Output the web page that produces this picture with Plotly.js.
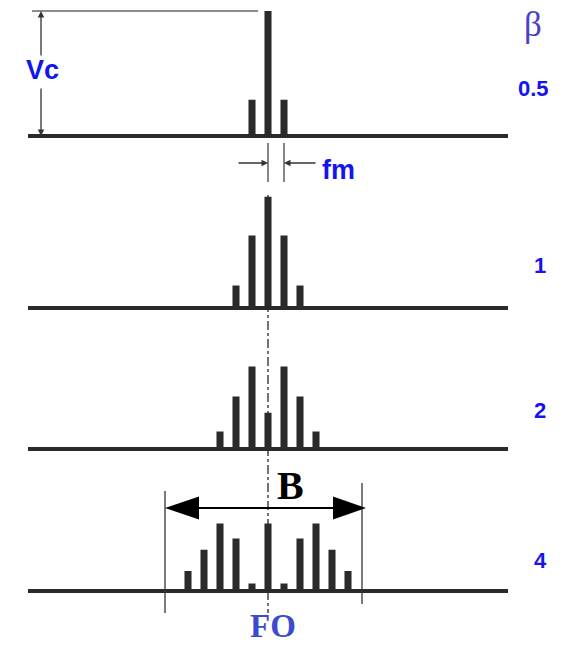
<!DOCTYPE html>
<html><head><meta charset="utf-8">
<script src="https://cdn.plot.ly/plotly-3.0.1.min.js"></script>
<style>html,body{margin:0;padding:0;background:#fff}#chart{width:567px;height:645px}</style>
</head><body><div id="chart"></div>
<script>
// ---- data (frequency offset in units of fm, relative amplitude vs Vc) ----
const betaLabels = ['0.5', '1', '2', '4'];
const offsets05 = [-1, 0, 1];
const amps05 = [0.29, 1.0, 0.29];
const offsets1 = [-2, -1, 0, 1, 2];
const amps1 = [0.18, 0.58, 0.89, 0.58, 0.18];
const offsets2 = [-3, -2, -1, 0, 1, 2, 3];
const amps2 = [0.14, 0.42, 0.66, 0.29, 0.66, 0.42, 0.14];
const offsets4 = [-5, -4, -3, -2, -1, 0, 1, 2, 3, 4, 5];
const amps4 = [0.16, 0.33, 0.54, 0.42, 0.06, 0.54, 0.06, 0.42, 0.54, 0.33, 0.16];
const freqSpan = [-15, 15];

// ---- layout helpers ----
const W = 567, H = 645;
const X = p => p / W, Y = p => 1 - p / H;
const baselinesPx = [136, 308, 449, 591];
const unitPx = 125, yr = [-0.1, 1.02];
function dom(b) { return [Y(b - yr[0] * unitPx), Y(b - yr[1] * unitPx)]; }

const blue = '#1414ee';
const sans = 'Liberation Sans, Arial, sans-serif';
const serif = 'Liberation Serif, Times New Roman, serif';

const series = [[offsets05, amps05], [offsets1, amps1], [offsets2, amps2], [offsets4, amps4]];
const traces = series.map((s, i) => ({
  type: 'bar', x: s[0], y: s[1], xaxis: 'x', yaxis: i === 0 ? 'y' : 'y' + (i + 1),
  width: 0.44, marker: { color: '#2a2a2a', line: { width: 0 } },
  hoverinfo: 'skip', showlegend: false
}));

const layout = {
  width: W, height: H, margin: { l: 0, r: 0, t: 0, b: 0 },
  paper_bgcolor: '#fff', plot_bgcolor: 'rgba(0,0,0,0)', barmode: 'overlay', showlegend: false,
  xaxis: { domain: [X(28), X(508)], range: freqSpan, visible: false, fixedrange: true },
  shapes: [], annotations: []
};
baselinesPx.forEach((b, i) => {
  const key = i === 0 ? 'yaxis' : 'yaxis' + (i + 1);
  layout[key] = {
    domain: dom(b), range: yr, anchor: 'x', showgrid: false, showticklabels: false, ticks: '',
    showline: false, zeroline: true, zerolinewidth: 4, zerolinecolor: '#2a2a2a', fixedrange: true
  };
});

const S = layout.shapes, A = layout.annotations;
// Vc reference line
S.push({ type: 'line', xref: 'paper', yref: 'paper', x0: X(32), x1: X(258), y0: Y(11), y1: Y(11), line: { color: '#666', width: 1.5 } });
// fm marker lines
[0, 1].forEach(n => S.push({ type: 'line', xref: 'x', yref: 'paper', x0: n, x1: n, y0: Y(143), y1: Y(182), line: { color: '#444', width: 1.3 } }));
// center dash-dot line
S.push({ type: 'line', xref: 'x', yref: 'paper', x0: 0, x1: 0, y0: Y(195), y1: Y(613), layer: 'below', line: { color: '#444', width: 1.5, dash: 'dashdot' } });
// B bandwidth markers
S.push({ type: 'line', xref: 'paper', yref: 'paper', x0: X(165), x1: X(165), y0: Y(491), y1: Y(613), line: { color: '#333', width: 1.3 } });
S.push({ type: 'line', xref: 'paper', yref: 'paper', x0: X(362), x1: X(362), y0: Y(483), y1: Y(604), line: { color: '#333', width: 1.3 } });
S.push({ type: 'line', xref: 'paper', yref: 'paper', x0: X(190), x1: X(340), y0: Y(508), y1: Y(508), line: { color: '#000', width: 2 } });
function tri(tipX, baseX, cy, half) {
  return `M ${X(tipX)},${Y(cy)} L ${X(baseX)},${Y(cy - half)} L ${X(baseX)},${Y(cy + half)} Z`;
}
S.push({ type: 'path', xref: 'paper', yref: 'paper', path: tri(165, 199, 508, 11.5), fillcolor: '#000', line: { width: 0 } });
S.push({ type: 'path', xref: 'paper', yref: 'paper', path: tri(366, 333, 508, 11.5), fillcolor: '#000', line: { width: 0 } });

// arrows
function arrow(xp, yp, ax, ay, size) {
  A.push({ xref: 'paper', yref: 'paper', x: X(xp), y: Y(yp), ax: ax, ay: ay, text: '', showarrow: true,
    arrowhead: 2, arrowsize: size, arrowwidth: 1.3, arrowcolor: '#333' });
}
arrow(41, 11, 0, 46, 1);
arrow(41, 136, 0, -49, 1);
arrow(268, 163, -31, 0, 1);
arrow(284, 163, 33, 0, 1);

function txt(t, xp, yp, font) {
  A.push({ xref: 'paper', yref: 'paper', x: X(xp), y: Y(yp), text: t, showarrow: false,
    xanchor: 'center', yanchor: 'middle', font: font });
}
txt('<b>Vc</b>', 42, 70, { family: sans, size: 27, color: blue });
txt('<b>f</b><b>m</b>', 338, 170, { family: sans, size: 27, color: blue });
txt('β', 533, 25, { family: serif, size: 35, color: '#4a40c8' });
const labelPos = [[533, 88], [540, 265], [540, 410], [540, 560]];
betaLabels.forEach((l, i) => txt('<b>' + l + '</b>', labelPos[i][0], labelPos[i][1], { family: sans, size: 22, color: blue }));
txt('<b>B</b>', 290, 485, { family: serif, size: 40, color: '#000' });
txt('<b>FO</b>', 273, 626, { family: serif, size: 33, color: '#3a4bd0' });

Plotly.newPlot('chart', traces, layout, { displayModeBar: false, staticPlot: true });
</script></body></html>
